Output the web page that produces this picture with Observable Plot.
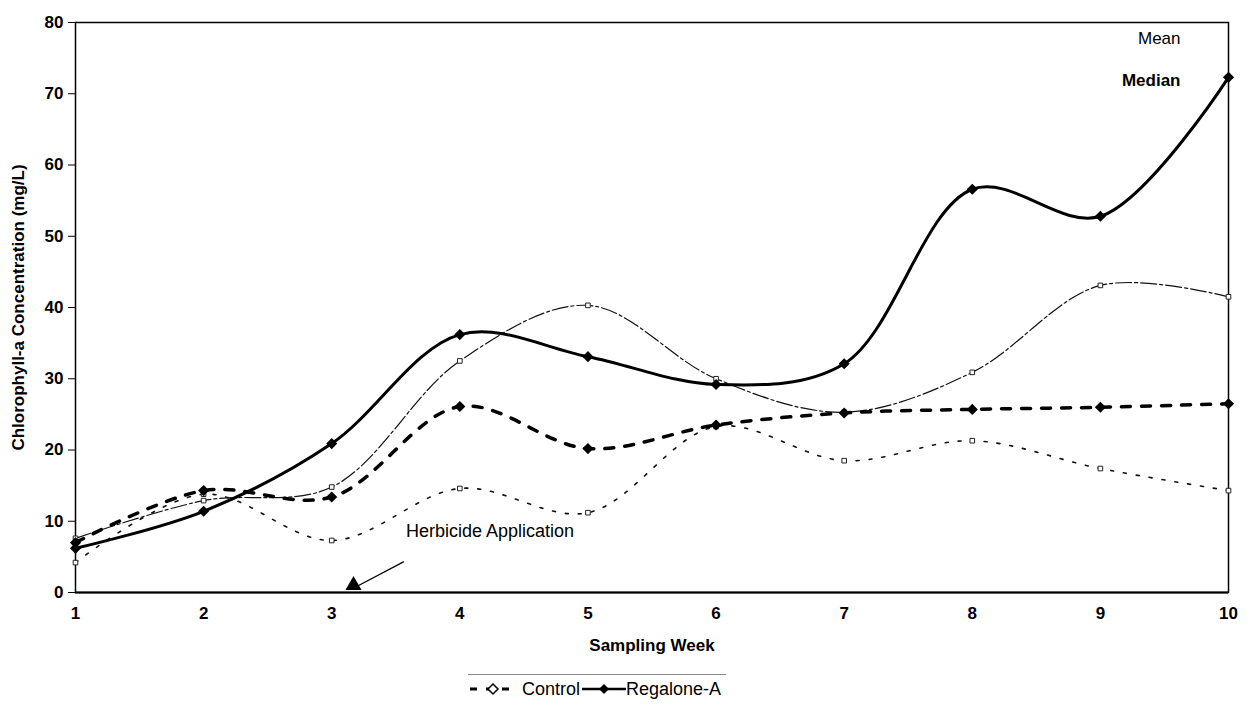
<!DOCTYPE html>
<html>
<head>
<meta charset="utf-8">
<script src="https://cdn.jsdelivr.net/npm/d3@7"></script>
<script src="https://cdn.jsdelivr.net/npm/@observablehq/plot@0.6"></script>
<style>
  body { margin: 0; background: #fff; font-family: "Liberation Sans", Arial, sans-serif; }
  #chart svg text { font-weight: bold; }
  #chart svg text.plain, #chart svg g.plain text { font-weight: normal; }
  #legend { margin-left: 468px; width: 258px; border-top: 1px solid #888; display: flex; align-items: center; font-size: 18px; color: #000; height: 28px; margin-top: 12px; white-space: nowrap; }
  #legend span { margin: 0 2px; }
</style>
</head>
<body>
<div id="chart"></div>
<div id="legend"></div>
<script>
// ---- data ----
const weeks = [1, 2, 3, 4, 5, 6, 7, 8, 9, 10];
const controlMean = [7.0, 14.3, 13.4, 26.1, 20.2, 23.5, 25.2, 25.7, 26.0, 26.5];
const regaloneMean = [6.2, 11.4, 20.9, 36.2, 33.1, 29.2, 32.1, 56.6, 52.8, 72.3];
const controlMedian = [4.2, 13.8, 7.3, 14.6, 11.2, 23.3, 18.5, 21.3, 17.4, 14.3];
const regaloneMedian = [7.6, 12.9, 14.8, 32.5, 40.3, 30.0, 25.3, 30.9, 43.1, 41.5];
const yTicks = [0, 10, 20, 30, 40, 50, 60, 70, 80];
const seriesNames = ["Control", "Regalone-A"];
const annotationText = ["Herbicide Application"];
const annotationLabel = [{x: 3.58, y: 8.6}];
const annotationArrow = [{x1: 3.56, y1: 4.3, x2: 3.18, y2: 0.7}];
const annotationHead = [{x: 3.17, y: 1.0}];
const statLabels = ["Mean", "Median"];

const rows = (vals) => weeks.map((w, i) => ({week: w, value: vals[i]}));

const plot = Plot.plot({
  width: 1250,
  height: 662,
  marginTop: 22,
  marginBottom: 70,
  marginLeft: 75,
  marginRight: 22,
  style: {fontFamily: "'Liberation Sans', Arial, sans-serif", fontSize: "17px", background: "#fff", color: "#000"},
  x: {domain: [1, 10]},
  y: {domain: [0, 80]},
  marks: [
    Plot.frame({stroke: "#000", strokeWidth: 1.5}),
    Plot.ruleY([0], {stroke: "#000", strokeWidth: 2.2}),
    Plot.axisY({ticks: yTicks, tickSize: 7, tickPadding: 5, tickFormat: d3.format("d"), fontSize: 17,
      label: "Chlorophyll-a Concentration (mg/L)", labelAnchor: "center", labelArrow: "none", labelOffset: 64}),
    Plot.axisX({ticks: weeks, tickSize: 0, tickPadding: 14, tickFormat: d3.format("d"), fontSize: 17,
      label: "Sampling Week", labelAnchor: "center", labelArrow: "none", labelOffset: 58}),
    // Control median: thin dotted
    Plot.line(rows(controlMedian), {x: "week", y: "value", curve: "catmull-rom", stroke: "#111", strokeWidth: 1.6, strokeDasharray: "3,10"}),
    Plot.dot(rows(controlMedian), {x: "week", y: "value", symbol: "square", r: 2.6, stroke: "#222", strokeWidth: 1, fill: "#fff"}),
    // Regalone median: thin line
    Plot.line(rows(regaloneMedian), {x: "week", y: "value", curve: "catmull-rom", stroke: "#111", strokeWidth: 1.2, strokeDasharray: "16,3,3,3"}),
    Plot.dot(rows(regaloneMedian), {x: "week", y: "value", symbol: "square", r: 2.6, stroke: "#222", strokeWidth: 1, fill: "#fff"}),
    // Control mean: thick dashed
    Plot.line(rows(controlMean), {x: "week", y: "value", curve: "catmull-rom", stroke: "#000", strokeWidth: 3.5, strokeDasharray: "9,11"}),
    Plot.dot(rows(controlMean), {x: "week", y: "value", symbol: "diamond2", r: 5, fill: "#000"}),
    // Regalone mean: thick solid
    Plot.line(rows(regaloneMean), {x: "week", y: "value", curve: "catmull-rom", stroke: "#000", strokeWidth: 3}),
    Plot.dot(rows(regaloneMean), {x: "week", y: "value", symbol: "diamond2", r: 5, fill: "#000"}),
    // Annotation
    Plot.text(annotationLabel, {x: "x", y: "y", text: () => annotationText[0], textAnchor: "start", fontSize: 18, className: "plain"}),
    Plot.arrow(annotationArrow, {x1: "x1", y1: "y1", x2: "x2", y2: "y2", stroke: "#000", strokeWidth: 1.3, headLength: 0}),
    Plot.dot(annotationHead, {x: "x", y: "y", symbol: "triangle", r: 6, fill: "#000"}),
    // Mean / Median labels
    Plot.text([statLabels[0]], {frameAnchor: "top-right", text: d => d, dx: -48, dy: 9, fontSize: 17, textAnchor: "end", className: "plain"}),
    Plot.text([statLabels[1]], {frameAnchor: "top-right", text: d => d, dx: -48, dy: 51, fontSize: 17, textAnchor: "end"})
  ]
});
document.getElementById("chart").appendChild(plot);

// Legend (HTML below the chart)
const legend = document.getElementById("legend");
legend.innerHTML = `
  <svg width="52" height="14"><line x1="2" y1="7" x2="50" y2="7" stroke="#000" stroke-width="3" stroke-dasharray="7,9"/><path d="M20,7 L25,2 L30,7 L25,12 Z" fill="#fff" stroke="#000" stroke-width="1.5"/></svg>
  <span>${seriesNames[0]}</span>
  <svg width="44" height="14"><line x1="0" y1="7" x2="44" y2="7" stroke="#000" stroke-width="2.5"/><path d="M17,7 L22,2 L27,7 L22,12 Z" fill="#000"/></svg>
  <span style="margin-left:0">${seriesNames[1]}</span>`;
</script>
</body>
</html>
